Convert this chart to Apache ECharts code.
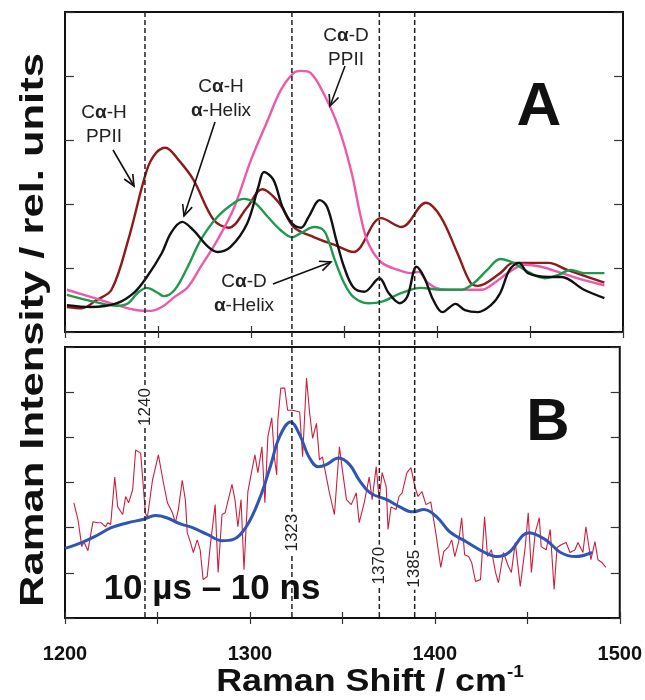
<!DOCTYPE html>
<html>
<head>
<meta charset="utf-8">
<script src="https://cdn.jsdelivr.net/npm/echarts@6/dist/echarts.min.js"></script>
<style>
html, body { margin: 0; padding: 0; background: #fff; }
#chart { width: 645px; height: 700px; }
</style>
</head>
<body>
<div id="chart"></div>
<script>
// panel A: [Raman shift, intensity]
const cahPPII = [[1201, 0.39], [1209, 0.37], [1217, 0.5], [1225, 0.66], [1234, 1.44], [1244, 2.53], [1249, 2.8], [1254, 2.88], [1261, 2.69], [1269, 2.38], [1280, 1.75], [1288, 1.63], [1298, 1.95], [1306, 2.23], [1315, 2.02], [1323, 1.64], [1334, 1.48], [1345, 1.36], [1355, 1.25], [1370, 1.78], [1381, 1.64], [1394, 2.02], [1402, 1.8], [1411, 1.23], [1418, 0.77], [1422, 0.72], [1434, 0.92], [1441, 1.08], [1460, 1.08], [1470, 0.97], [1490, 0.77]]
const cahHelix = [[1201, 0.42], [1214, 0.39], [1228, 0.45], [1237, 0.61], [1244, 0.86], [1252, 1.23], [1257, 1.55], [1263, 1.72], [1269, 1.59], [1277, 1.33], [1282, 1.25], [1289, 1.33], [1298, 1.7], [1304, 2.27], [1307, 2.5], [1312, 2.38], [1317, 1.95], [1322, 1.7], [1327, 1.63], [1331, 1.8], [1337, 2.06], [1341, 1.95], [1346, 1.42], [1350, 1.02], [1355, 0.7], [1361, 0.63], [1369, 0.84], [1374, 0.61], [1380, 0.45], [1384, 0.55], [1389, 1.02], [1393, 0.86], [1398, 0.5], [1403, 0.31], [1410, 0.44], [1415, 0.34], [1422, 0.31], [1429, 0.42], [1434, 0.61], [1439, 0.97], [1444, 1.08], [1449, 0.92], [1460, 0.86], [1467, 0.86], [1479, 0.66], [1490, 0.53]]
const cadHelix = [[1201, 0.58], [1216, 0.47], [1228, 0.41], [1234, 0.45], [1239, 0.61], [1244, 0.69], [1250, 0.61], [1253, 0.56], [1259, 0.66], [1266, 1.02], [1273, 1.44], [1282, 1.8], [1291, 2.02], [1296, 2.08], [1302, 2.02], [1309, 1.8], [1316, 1.59], [1322, 1.48], [1327, 1.55], [1334, 1.64], [1339, 1.59], [1342, 1.4], [1345, 1.13], [1350, 0.77], [1355, 0.55], [1363, 0.45], [1370, 0.47], [1381, 0.61], [1391, 0.69], [1402, 0.66], [1413, 0.66], [1420, 0.77], [1427, 0.97], [1434, 1.14], [1441, 1.08], [1449, 0.94], [1458, 0.84], [1465, 0.89], [1472, 0.97], [1479, 0.92], [1490, 0.92]]
const cadPPII = [[1201, 0.66], [1216, 0.53], [1228, 0.42], [1239, 0.34], [1246, 0.33], [1252, 0.39], [1259, 0.55], [1266, 0.7], [1273, 1.02], [1282, 1.44], [1291, 1.95], [1300, 2.69], [1309, 3.31], [1316, 3.78], [1323, 4.05], [1327, 4.08], [1332, 4.05], [1339, 3.73], [1347, 3.2], [1354, 2.5], [1359, 1.8], [1363, 1.39], [1370, 1.09], [1379, 0.97], [1386, 0.92], [1390, 0.94], [1395, 0.77], [1402, 0.67], [1413, 0.66], [1424, 0.66], [1431, 0.77], [1438, 0.92], [1447, 1.05], [1456, 1.02], [1467, 0.92], [1479, 0.81], [1490, 0.73]]

// panel B: 10 us - 10 ns difference spectrum and its smoothed fit
const diffRaw = [[1204.8, 2.55], [1207, 2.18], [1209.1, 1.58], [1210.2, 1.69], [1212.4, 1.49], [1215.1, 2.13], [1217.7, 2.11], [1219.4, 2.11], [1222, 2.02], [1223.1, 2.11], [1224.7, 2.07], [1226.9, 3.12], [1228.5, 2.46], [1231.2, 2.29], [1232.8, 2.69], [1234.4, 2.55], [1236.6, 2.84], [1238.2, 3.72], [1240.9, 3.65], [1243.5, 2.32], [1244.6, 2.23], [1247.3, 3.05], [1250.5, 3.61], [1253.2, 3.0], [1255.4, 2.55], [1258.1, 2.33], [1259.7, 2.11], [1261.3, 2.4], [1263.4, 3.05], [1265.1, 2.61], [1266.1, 1.89], [1267.7, 1.69], [1269.4, 1.45], [1271.5, 1.73], [1273.1, 1.51], [1274.7, 0.85], [1276.9, 0.92], [1278.5, 1.58], [1281.2, 2.51], [1282.8, 1.01], [1284.9, 2.29], [1286.6, 2.33], [1290.3, 2.96], [1291.9, 2.62], [1293.5, 2.02], [1295.2, 2.62], [1296.8, 1.07], [1298.9, 2.8], [1301.1, 3.28], [1302.7, 3.61], [1304.3, 3.22], [1306.5, 3.79], [1308.1, 2.55], [1309.7, 4.01], [1311.8, 4.43], [1313.4, 3.5], [1314.5, 3.17], [1315.1, 4.38], [1316.7, 5.09], [1318.8, 5.09], [1320.4, 4.6], [1323.1, 4.6], [1326.9, 4.56], [1328.5, 3.57], [1330.6, 5.31], [1332.3, 4.54], [1333.9, 3.98], [1336, 4.31], [1337.6, 3.5], [1339.2, 3.57], [1343, 2.77], [1345.7, 2.29], [1348.4, 3.79], [1350, 3.28], [1352.2, 2.62], [1354.8, 2.51], [1357.5, 2.77], [1359.1, 2.11], [1361.8, 2.55], [1364.5, 3.12], [1366.1, 2.62], [1368.3, 3.35], [1369.9, 2.62], [1371.5, 3.22], [1373.7, 2.91], [1374.7, 1.96], [1376.3, 2.46], [1379, 2.4], [1380.6, 2.69], [1382.3, 2.77], [1384.9, 3.22], [1387.1, 3.33], [1389.2, 2.91], [1390.9, 2.69], [1393, 2.8], [1395.2, 2.51], [1397.8, 2.57], [1400.5, 1.89], [1403.2, 1.12], [1404.8, 1.47], [1407.5, 1.58], [1409.1, 1.73], [1410.8, 1.36], [1412.9, 1.69], [1414.5, 2.22], [1416.1, 1.4], [1418.3, 1.36], [1419.9, 1.23], [1422, 0.81], [1424.7, 0.85], [1426.9, 2.24], [1428.5, 1.36], [1430.6, 1.51], [1432.8, 1.01], [1434.4, 0.78], [1437.1, 1.45], [1439.8, 1.14], [1441.4, 1.01], [1443.5, 1.67], [1446.2, 0.7], [1448.9, 1.58], [1450.5, 2.33], [1452.2, 1.01], [1454.3, 1.89], [1456.5, 2.22], [1457.5, 1.58], [1460.2, 1.51], [1462.4, 1.96], [1464.5, 0.63], [1466.1, 1.56], [1468.3, 1.62], [1471, 1.67], [1473.1, 1.45], [1475.8, 1.51], [1477.4, 1.67], [1480.1, 1.45], [1481.7, 2.02], [1484.4, 1.29], [1486.6, 1.69], [1488.2, 1.29], [1490.3, 1.23], [1492.5, 1.12]]
const diffFit = [[1200, 1.54], [1209, 1.67], [1216, 1.8], [1225, 2.0], [1234, 2.11], [1242, 2.18], [1249, 2.27], [1255, 2.22], [1262, 2.09], [1269, 2.0], [1277, 1.85], [1285, 1.71], [1291, 1.74], [1298, 2.02], [1305, 2.62], [1311, 3.35], [1316, 4.01], [1322, 4.34], [1327, 4.05], [1332, 3.56], [1337, 3.35], [1341, 3.39], [1348, 3.54], [1354, 3.39], [1359, 3.06], [1365, 2.77], [1374, 2.62], [1381, 2.46], [1388, 2.35], [1394, 2.4], [1401, 2.24], [1408, 1.91], [1417, 1.69], [1427, 1.45], [1434, 1.36], [1440, 1.45], [1451, 1.89], [1460, 1.73], [1468, 1.45], [1476, 1.36], [1485, 1.45]]

const markPos = [1243, 1322, 1369, 1388]
const markText = ['1240', '1323', '1370', '1385']
const markTextY = [4.67, 1.89, 1.16, 1.09]

const FONT = '"Liberation Sans", Arial, Helvetica, sans-serif'
const chart = echarts.init(document.getElementById('chart'))

function xAx(grid, pos, labels) {
  return {
    gridIndex: grid,
    type: 'value',
    position: pos,
    min: 1200,
    max: 1500,
    interval: 50,
    axisLine: { show: false },
    axisTick: { show: true, inside: true, length: 6, lineStyle: { color: '#333', width: 1.2 } },
    splitLine: { show: false },
    axisLabel: {
      show: labels,
      margin: 26,
      color: '#111',
      fontSize: 20,
      fontWeight: 'bold',
      fontFamily: FONT,
      showMinLabel: true,
      showMaxLabel: true,
      formatter: (v) => (v % 100 === 0 ? String(v) : '')
    }
  }
}

function yAx(grid, pos, max) {
  return {
    gridIndex: grid,
    type: 'value',
    position: pos,
    min: 0,
    max: max,
    interval: 1,
    axisLine: { show: false },
    axisTick: { show: true, inside: true, length: 9, lineStyle: { color: '#333', width: 1.2 } },
    splitLine: { show: false },
    axisLabel: { show: false }
  }
}

function line(name, data, color, xi, yi, width, smooth) {
  return {
    name: name,
    type: 'line',
    xAxisIndex: xi,
    yAxisIndex: yi,
    data: data,
    showSymbol: false,
    smooth: smooth,
    lineStyle: { color: color, width: width },
    itemStyle: { color: color },
    z: 3
  }
}

function arrow(x1, y1, x2, y2) {
  const a = Math.atan2(y2 - y1, x2 - x1)
  const L = 11
  const W = 5
  const bx = x2 - L * Math.cos(a)
  const by = y2 - L * Math.sin(a)
  const px = -Math.sin(a) * W
  const py = Math.cos(a) * W
  return [
    { type: 'line', shape: { x1: x1, y1: y1, x2: x2, y2: y2 }, style: { stroke: '#111', lineWidth: 1.6 }, z: 20 },
    { type: 'polyline', shape: { points: [[bx + px, by + py], [x2, y2], [bx - px, by - py]] }, style: { stroke: '#111', lineWidth: 1.6, fill: null }, z: 20 }
  ]
}

function note(x, y, text) {
  return {
    type: 'text',
    x: x,
    y: y,
    z: 20,
    style: {
      text: text,
      fill: '#222',
      font: '19px ' + FONT,
      align: 'center',
      verticalAlign: 'middle',
      textAlign: 'center',
      textVerticalAlign: 'middle',
      lineHeight: 24,
      rich: {
        g: { fontWeight: 'bold', fontSize: 19, fontFamily: FONT, fill: '#222', lineHeight: 24 },
        n: { fontSize: 19, fontFamily: FONT, fill: '#222', lineHeight: 24 }
      }
    }
  }
}

const option = {
  backgroundColor: '#fff',
  animation: false,
  grid: [
    { left: 65, right: 22, top: 12, height: 320, show: true, borderColor: '#111', borderWidth: 2, backgroundColor: 'transparent' },
    { left: 65, right: 22, top: 347, height: 271, show: true, borderColor: '#111', borderWidth: 2, backgroundColor: 'transparent' }
  ],
  xAxis: [xAx(0, 'bottom', false), xAx(0, 'top', false), xAx(1, 'bottom', true), xAx(1, 'top', false)],
  yAxis: [yAx(0, 'left', 5), yAx(0, 'right', 5), yAx(1, 'left', 6), yAx(1, 'right', 6)],
  series: [
    line('Cα-H PPII', cahPPII, '#8e1b1b', 0, 0, 2.4, 0.35),
    line('Cα-D PPII', cadPPII, '#ec5aa8', 0, 0, 2.4, 0.35),
    line('Cα-D α-Helix', cadHelix, '#1f9a4c', 0, 0, 2.4, 0.35),
    line('Cα-H α-Helix', cahHelix, '#111111', 0, 0, 2.4, 0.35),
    line('10 µs – 10 ns', diffRaw, '#cc1f3c', 2, 2, 1.1, false),
    line('fit', diffFit, '#2f55b5', 2, 2, 3, 0.4)
  ]
}

chart.setOption(option)

const graphic = []
const lineTop = 12
const lineBottom = 619
markPos.forEach((v, i) => {
  const px = chart.convertToPixel({ xAxisIndex: 0 }, v)
  graphic.push({ type: 'line', shape: { x1: px, y1: lineTop, x2: px, y2: lineBottom }, style: { stroke: '#222', lineWidth: 1.5, lineDash: [5, 3] }, z: 15 })
  const py = chart.convertToPixel({ yAxisIndex: 2 }, markTextY[i])
  graphic.push({
    type: 'text', x: px, y: py, rotation: Math.PI / 2, z: 16,
    style: { text: markText[i], font: '17px ' + FONT, fill: '#222', align: 'center', verticalAlign: 'middle', textAlign: 'center', textVerticalAlign: 'middle', backgroundColor: '#fff', padding: [0, 2] }
  })
})

graphic.push(note(104, 125, '{n|C}{g|α}{n|-H}\n{n|PPII}'))
graphic.push(note(221, 99, '{n|C}{g|α}{n|-H}\n{g|α}{n|-Helix}'))
graphic.push(note(346, 48, '{n|C}{g|α}{n|-D}\n{n|PPII}'))
graphic.push(note(244, 294, '{n|C}{g|α}{n|-D}\n{g|α}{n|-Helix}'))
graphic.push(...arrow(113, 150, 134, 186))
graphic.push(...arrow(215, 122, 184, 216))
graphic.push(...arrow(345, 66, 330, 106))
graphic.push(...arrow(273, 284, 331, 262))

graphic.push({ type: 'text', x: 539, y: 108, z: 20, style: { text: 'A', font: 'bold 62px ' + FONT, fill: '#111', align: 'center', verticalAlign: 'middle', textAlign: 'center', textVerticalAlign: 'middle' } })
graphic.push({ type: 'text', x: 548, y: 423, z: 20, style: { text: 'B', font: 'bold 60px ' + FONT, fill: '#111', align: 'center', verticalAlign: 'middle', textAlign: 'center', textVerticalAlign: 'middle' } })
graphic.push({ type: 'text', x: 212, y: 589, z: 20, style: { text: '10 µs – 10 ns', font: 'bold 35px ' + FONT, fill: '#111', align: 'center', verticalAlign: 'middle', textAlign: 'center', textVerticalAlign: 'middle' } })

graphic.push({ type: 'text', x: 34, y: 330, rotation: Math.PI / 2, scaleX: 1.28, z: 20, style: { text: 'Raman Intensity / rel. units', font: 'bold 34px ' + FONT, fill: '#111', align: 'center', verticalAlign: 'middle', textAlign: 'center', textVerticalAlign: 'middle' } })
graphic.push({
  type: 'text', x: 370, y: 682, z: 20, scaleX: 1.12,
  style: {
    text: '{m|Raman Shift / cm}{s|-1}',
    align: 'center', verticalAlign: 'middle', textAlign: 'center', textVerticalAlign: 'middle',
    rich: {
      m: { fontSize: 32, fontWeight: 'bold', fontFamily: FONT, fill: '#111', lineHeight: 36 },
      s: { fontSize: 17, fontWeight: 'bold', fontFamily: FONT, fill: '#111', verticalAlign: 'top', lineHeight: 36 }
    }
  }
})

chart.setOption({ graphic: graphic })
</script>
</body>
</html>
